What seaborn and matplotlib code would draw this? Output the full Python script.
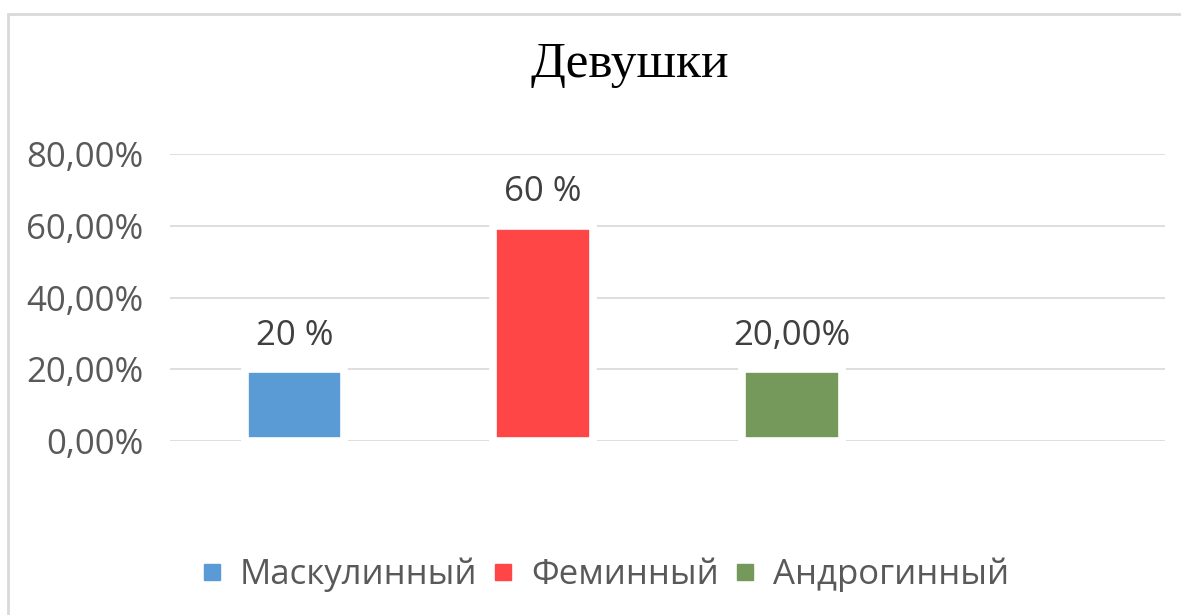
import pandas as pd
import numpy as np

import matplotlib.pyplot as plt
import seaborn as sns
from matplotlib.patches import Rectangle
from matplotlib.lines import Line2D


categories = ["Маскулинный", "Феминный", "Андрогинный"]
values = [0.20, 0.60, 0.20]
bar_labels = ["20 %", "60 %", "20,00%"]
colors = ["#5B9BD5", "#FF4646", "#74995B"]

y_ticks = [0.0, 0.2, 0.4, 0.6, 0.8]
y_tick_labels = ["0,00%", "20,00%", "40,00%", "60,00%", "80,00%"]

title = "Девушки"


df = pd.DataFrame(
    {
        "Стиль": categories,
        "Доля": values
    }
)

# 4-й слот на оси пустой, как в исходной диаграмме
order = categories + [" "]


sns.set_style("white")
plt.rcParams["font.family"] = ["Open Sans", "DejaVu Sans"]


fig = plt.figure(figsize=(11.81, 6.15), dpi=100)

ax = fig.add_axes([0.1439, 0.2824, 0.8425, 0.4672])

sns.barplot(
    data=df,
    x="Стиль",
    y="Доля",
    hue="Стиль",
    order=order,
    hue_order=categories,
    palette=colors,
    saturation=1,
    width=0.4,
    edgecolor="white",
    linewidth=5.5,
    legend=False,
    ax=ax,
    zorder=3
)

ax.set_ylim(0, 0.8)
ax.set_xlim(-0.5, 3.5)

ax.set_yticks(y_ticks)
ax.set_yticklabels(y_tick_labels, fontsize=25, color="#595959")
ax.tick_params(axis="y", length=0, pad=19)

ax.set_xticks([])
ax.set_xlabel("")
ax.set_ylabel("")

ax.yaxis.grid(True, color="#D9D9D9", linewidth=1.2)
ax.set_axisbelow(True)

for spine in ax.spines.values():
    spine.set_visible(False)


for container, label in zip(ax.containers, bar_labels):
    ax.bar_label(
        container,
        labels=[label],
        padding=12,
        fontsize=25,
        color="#404040"
    )


fig.text(
    630 / 1181,
    1 - 77 / 615,
    title,
    family="Liberation Serif",
    fontsize=37,
    color="black",
    ha="center",
    va="baseline"
)


handles = [
    Line2D([0], [0], marker="s", linestyle="", markersize=12,
           markerfacecolor=c, markeredgecolor=c)
    for c in colors
]

fig.legend(
    handles,
    categories,
    loc="center",
    bbox_to_anchor=(606 / 1181, 1 - 575 / 615),
    ncol=3,
    frameon=False,
    fontsize=25,
    labelcolor="#595959",
    handlelength=0.5,
    handletextpad=0.55,
    columnspacing=0.5
)


fig.patches.append(
    Rectangle(
        (7.5 / 1181, -0.05),
        1.1,
        1.05 - 14 / 615,
        transform=fig.transFigure,
        fill=False,
        edgecolor="#D9D9D9",
        linewidth=2
    )
)


plt.savefig("out.png", dpi=100)
